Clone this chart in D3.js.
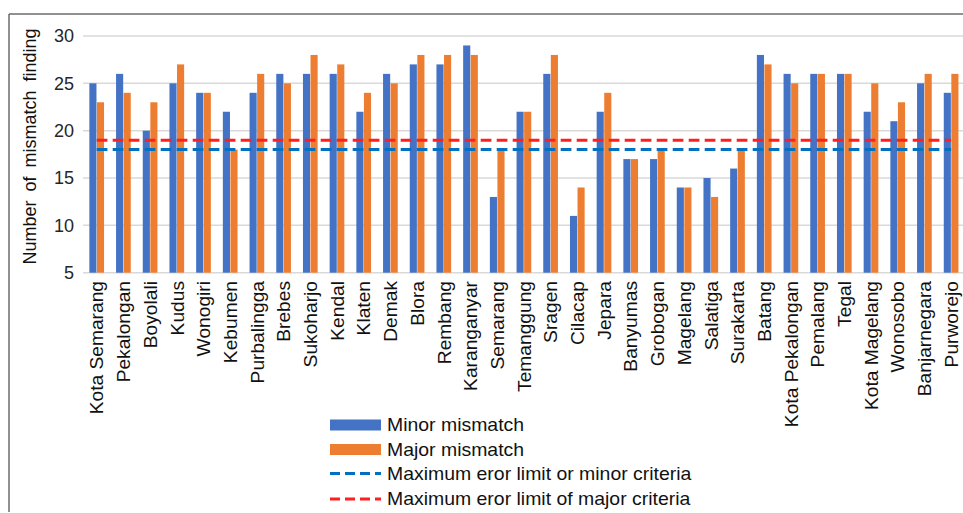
<!DOCTYPE html>
<html>
<head>
<meta charset="utf-8">
<script src="https://cdn.jsdelivr.net/npm/d3@7"></script>
<style>
  html, body { margin: 0; padding: 0; background: #fff; }
  svg { display: block; font-family: "Liberation Sans", Arial, sans-serif; }
</style>
</head>
<body>
<svg id="chart" width="963" height="513"></svg>
<script>
const categories = ["Kota Semarang","Pekalongan","Boyolali","Kudus","Wonogiri","Kebumen","Purbalingga","Brebes","Sukoharjo","Kendal","Klaten","Demak","Blora","Rembang","Karanganyar","Semarang","Temanggung","Sragen","Cilacap","Jepara","Banyumas","Grobogan","Magelang","Salatiga","Surakarta","Batang","Kota Pekalongan","Pemalang","Tegal","Kota Magelang","Wonosobo","Banjarnegara","Purworejo"];
const minorMismatch = [25,26,20,25,24,22,24,26,26,26,22,26,27,27,29,13,22,26,11,22,17,17,14,15,16,28,26,26,26,22,21,25,24];
const majorMismatch = [23,24,23,27,24,18,26,25,28,27,24,25,28,28,28,18,22,28,14,24,17,18,14,13,18,27,25,26,26,25,23,26,26];
const minorLimit = 18;
const majorLimit = 19;
const yTicks = [5,10,15,20,25,30];
const seriesNames = ["Minor mismatch","Major mismatch"];
const lineNames = ["Maximum eror limit or minor criteria","Maximum eror limit of major criteria"];

const svg = d3.select("#chart");
const colors = { minor: "#4472C4", major: "#ED7D31", minorLine: "#0070C0", majorLine: "#FF1F1F" };

const x = d3.scaleBand().domain(categories).range([83.35, 964.45]).paddingInner(0.45).paddingOuter(0.225);
const xs = d3.scaleBand().domain(["minor","major"]).range([0, x.bandwidth()]).paddingInner(0.06);
const y = d3.scaleLinear().domain([5, 30]).range([272.7, 36]);

// frame
svg.append("line").attr("x1", 9).attr("x2", 963).attr("y1", 14).attr("y2", 14).attr("stroke", "#6b6b6b").attr("stroke-width", 1.5);
svg.append("line").attr("x1", 9).attr("x2", 9).attr("y1", 14).attr("y2", 512).attr("stroke", "#6b6b6b").attr("stroke-width", 1.5);

// gridlines
svg.append("g").selectAll("line").data(yTicks).join("line")
  .attr("x1", 83).attr("x2", 963)
  .attr("y1", d => y(d)).attr("y2", d => y(d))
  .attr("stroke", "#d9d9d9").attr("stroke-width", 1.5);

// y axis
const yAxis = d3.axisLeft(y).tickValues(yTicks).tickSize(0).tickPadding(0);
const gy = svg.append("g").attr("transform", "translate(74,0)").call(yAxis);
gy.select(".domain").remove();
gy.selectAll("text").attr("font-size", 18).attr("fill", "#262626").attr("font-family", "Liberation Sans, Arial, sans-serif");

// bars
const groups = svg.append("g").selectAll("g").data(categories).join("g")
  .attr("transform", d => `translate(${x(d)},0)`);
groups.append("rect")
  .attr("x", xs("minor")).attr("width", xs.bandwidth())
  .attr("y", (d, i) => y(minorMismatch[i])).attr("height", (d, i) => y(5) - y(minorMismatch[i]))
  .attr("fill", colors.minor);
groups.append("rect")
  .attr("x", xs("major")).attr("width", xs.bandwidth())
  .attr("y", (d, i) => y(majorMismatch[i])).attr("height", (d, i) => y(5) - y(majorMismatch[i]))
  .attr("fill", colors.major);

// limit lines
const cx = d => x(d) + x.bandwidth() / 2;
const line = d3.line().x(d => cx(d.c)).y(d => y(d.v));
svg.append("path").datum(categories.map(c => ({ c, v: minorLimit })))
  .attr("d", line).attr("fill", "none").attr("stroke", colors.minorLine)
  .attr("stroke-width", 3).attr("stroke-dasharray", "10.7,5.3");
svg.append("path").datum(categories.map(c => ({ c, v: majorLimit })))
  .attr("d", line).attr("fill", "none").attr("stroke", colors.majorLine)
  .attr("stroke-width", 3).attr("stroke-dasharray", "10.7,5.3");

// x labels
svg.append("g").selectAll("text").data(categories).join("text")
  .attr("transform", d => `translate(${cx(d)},281) rotate(-90)`)
  .attr("text-anchor", "end").attr("dy", "0.35em")
  .attr("font-size", 19.2).attr("fill", "#111")
  .text(d => d);

// y label
svg.append("text")
  .attr("transform", "translate(30,146.5) rotate(-90)")
  .attr("text-anchor", "middle").attr("dy", "0.35em")
  .attr("font-size", 18).attr("word-spacing", 4).attr("fill", "#111")
  .text("Number of mismatch finding");

// legend
const lg = svg.append("g");
const rowY = [425, 449.5, 473.5, 499];
seriesNames.forEach((n, i) => {
  lg.append("rect").attr("x", 330).attr("y", rowY[i] - 5.5).attr("width", 51).attr("height", 11)
    .attr("fill", i === 0 ? colors.minor : colors.major);
});
lineNames.forEach((n, i) => {
  lg.append("line").attr("x1", 330).attr("x2", 381).attr("y1", rowY[i + 2]).attr("y2", rowY[i + 2])
    .attr("stroke", i === 0 ? colors.minorLine : colors.majorLine)
    .attr("stroke-width", 3).attr("stroke-dasharray", "10,5");
});
seriesNames.concat(lineNames).forEach((n, i) => {
  lg.append("text").attr("transform", `translate(387,${rowY[i]}) scale(1.08,1)`).attr("dy", "0.35em")
    .attr("font-size", 18).attr("fill", "#111").text(n);
});
</script>
</body>
</html>
